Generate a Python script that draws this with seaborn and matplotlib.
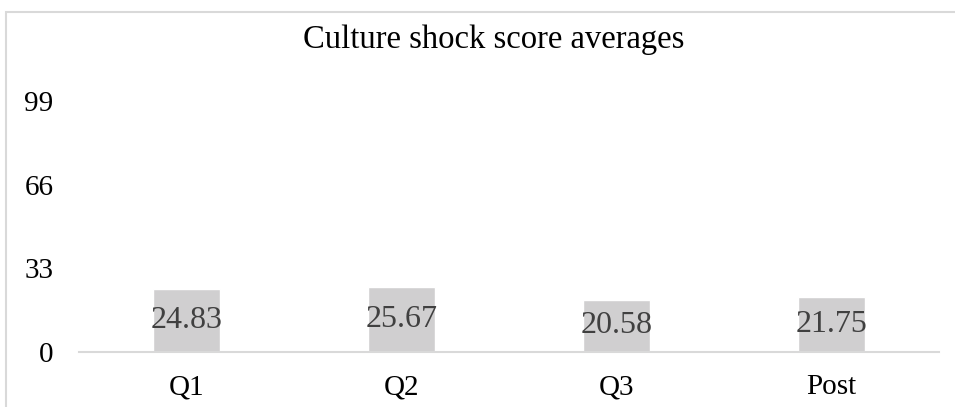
import numpy as np
import pandas as pd
import matplotlib.pyplot as plt
import seaborn as sns
from matplotlib.patches import Rectangle

# Chart data
categories = ['Q1', 'Q2', 'Q3', 'Post']
scores = [24.83, 25.67, 20.58, 21.75]
y_ticks = [0, 33, 66, 99]

data = pd.DataFrame({'period': categories, 'score': scores})

sns.set_style('white')
plt.rcParams['font.family'] = ['Liberation Serif', 'DejaVu Serif']

fig = plt.figure(figsize=(9.55, 4.07), dpi=100)
ax = fig.add_axes([79 / 955, 1 - 352 / 407, 860 / 955, 251 / 407])

sns.barplot(data=data, x='period', y='score', color='#d0cfd0',
            saturation=1, width=0.316, ax=ax)

ax.bar_label(ax.containers[0], labels=[f'{v:.2f}' for v in scores],
             label_type='center', fontsize=23, color='#404040')

ax.set_ylim(0, 99)
ax.set_yticks(y_ticks)
ax.set_xlabel('')
ax.set_ylabel('')
ax.tick_params(axis='y', labelsize=21, length=0, pad=18.5)
ax.tick_params(axis='x', labelsize=21, length=0, pad=16)
for lab in ax.get_xticklabels() + ax.get_yticklabels():
    lab.set_color('black')

for side in ['top', 'right', 'left']:
    ax.spines[side].set_visible(False)
ax.spines['bottom'].set_color('#d9d9d9')
ax.spines['bottom'].set_linewidth(1.5)

fig.text(494 / 955, 1 - 40 / 407, 'Culture shock score averages',
         ha='center', va='center', fontsize=23.5, color='black')

# outer chart border (partly cut off at the right and bottom)
fig.patches.append(Rectangle((6 / 955, -0.1), 1.2, 1 - 12 / 407 + 0.1,
                             transform=fig.transFigure, fill=False,
                             edgecolor='#d9d9d9', linewidth=1.5))

fig.savefig('out.png', dpi=100)
